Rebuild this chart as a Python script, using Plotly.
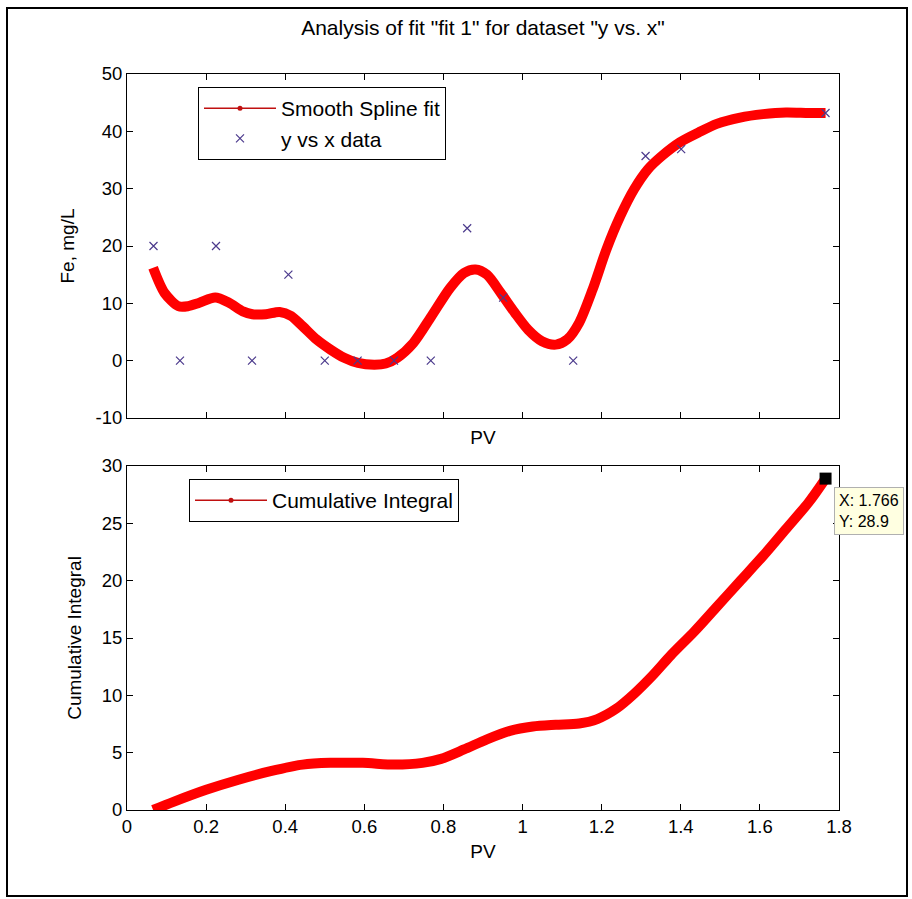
import plotly.graph_objects as go

# ---------------- data ----------------
data_x = [0.067, 0.134, 0.225, 0.316, 0.408, 0.500, 0.583, 0.675, 0.768, 0.860, 0.951, 1.128, 1.311, 1.401, 1.766]
data_y = [20.0, 0.0, 20.0, 0.0, 15.0, 0.0, 0.0, 0.0, 0.0, 23.1, 11.0, 0.0, 35.7, 36.9, 43.2]

spline_x = [0.066, 0.095, 0.130, 0.154, 0.183, 0.223, 0.258, 0.293, 0.317, 0.351, 0.386, 0.415,
            0.444, 0.479, 0.514, 0.549, 0.584, 0.625, 0.654, 0.683, 0.724, 0.770, 0.817, 0.852,
            0.881, 0.910, 0.945, 0.980, 1.014, 1.049, 1.084, 1.113, 1.143, 1.177, 1.212, 1.247,
            1.282, 1.317, 1.352, 1.398, 1.445, 1.491, 1.550, 1.608, 1.666, 1.724, 1.766]
spline_y = [16.2, 11.8, 9.5, 9.5, 10.1, 11.0, 10.1, 8.6, 8.1, 8.1, 8.5, 7.8,
            6.0, 3.7, 1.95, 0.5, -0.4, -0.7, -0.5, 0.5, 3.1, 7.8, 12.7, 15.3,
            15.9, 15.0, 11.8, 8.4, 5.4, 3.4, 2.8, 3.7, 6.6, 12.4, 19.4, 25.2,
            29.9, 33.4, 35.7, 38.1, 39.8, 41.3, 42.4, 43.0, 43.3, 43.2, 43.2]

cum_x = [0.066, 0.119, 0.200, 0.282, 0.363, 0.444, 0.514, 0.596, 0.677, 0.747, 0.794, 0.852,
         0.910, 0.968, 1.026, 1.084, 1.143, 1.189, 1.236, 1.282, 1.329, 1.375, 1.434, 1.492,
         1.550, 1.608, 1.666, 1.724, 1.766]
cum_y = [0.0, 0.73, 1.76, 2.64, 3.38, 3.96, 4.11, 4.11, 3.96, 4.11, 4.46, 5.28,
         6.16, 6.90, 7.28, 7.43, 7.54, 7.93, 8.81, 10.13, 11.74, 13.50, 15.56, 17.76,
         19.96, 22.16, 24.51, 26.86, 28.9]

tip_x = [1.766]
tip_y = [28.9]

x_tick_vals = [0, 0.2, 0.4, 0.6, 0.8, 1.0, 1.2, 1.4, 1.6, 1.8]
x_tick_text = ["0", "0.2", "0.4", "0.6", "0.8", "1", "1.2", "1.4", "1.6", "1.8"]
y1_tick_vals = [-10, 0, 10, 20, 30, 40, 50]
y1_tick_text = ["-10", "0", "10", "20", "30", "40", "50"]
y2_tick_vals = [0, 5, 10, 15, 20, 25, 30]
y2_tick_text = ["0", "5", "10", "15", "20", "25", "30"]

title_text = 'Analysis of fit "fit 1" for dataset "y vs. x"'

# ---------------- figure ----------------
FONT = "Liberation Sans, Arial, sans-serif"
RED = "#ff0000"
LEG_RED = "#c01010"
XCOL = "#4b3a8c"

fig = go.Figure()

fig.add_trace(go.Scatter(x=spline_x, y=spline_y, mode="lines", line=dict(color=RED, width=10, shape="spline", smoothing=0.8),
                         showlegend=False, xaxis="x", yaxis="y", hoverinfo="skip"))
fig.add_trace(go.Scatter(x=[None], y=[None], mode="lines+markers", name="Smooth Spline fit",
                         line=dict(color=LEG_RED, width=1.5), marker=dict(color=LEG_RED, size=5),
                         xaxis="x", yaxis="y", legend="legend"))
fig.add_trace(go.Scatter(x=data_x, y=data_y, mode="markers", name="y vs x data",
                         marker=dict(symbol="x-thin", size=8, line=dict(color=XCOL, width=1.2)),
                         xaxis="x", yaxis="y", legend="legend"))

fig.add_trace(go.Scatter(x=cum_x, y=cum_y, mode="lines", line=dict(color=RED, width=10, shape="spline", smoothing=0.8),
                         showlegend=False, xaxis="x2", yaxis="y2", hoverinfo="skip"))
fig.add_trace(go.Scatter(x=[None], y=[None], mode="lines+markers", name="Cumulative Integral",
                         line=dict(color=LEG_RED, width=1.5), marker=dict(color=LEG_RED, size=5),
                         xaxis="x2", yaxis="y2", legend="legend2"))
fig.add_trace(go.Scatter(x=tip_x, y=tip_y, mode="markers", showlegend=False,
                         marker=dict(symbol="square", size=12, color="black"),
                         xaxis="x2", yaxis="y2"))

axis_common = dict(showline=True, linecolor="black", linewidth=1, mirror="ticks", ticks="inside",
                   ticklen=6, tickcolor="black", showgrid=False, zeroline=False,
                   tickfont=dict(family=FONT, size=18.5, color="black"))

L, R, T, B = 127, 73, 74, 89
W, H = 912, 899
PH = H - T - B
PW = W - L - R

def py(p):
    return (H - B - p) / PH

def px(p):
    return (p - L) / PW

fig.update_layout(
    width=W, height=H,
    margin=dict(l=L, r=R, t=T, b=B, autoexpand=False),
    paper_bgcolor="white", plot_bgcolor="white",
    font=dict(family=FONT, size=18, color="black"),
    title=dict(text=title_text, x=0.5, xref="paper", xanchor="center", y=1 - 28 / H, yanchor="middle",
               font=dict(family=FONT, size=21, color="black")),
    xaxis=dict(axis_common, domain=[0, 1], range=[0, 1.8], tickvals=x_tick_vals, ticktext=x_tick_text,
               showticklabels=False, anchor="y",
               title=dict(text="PV", standoff=12, font=dict(family=FONT, size=19))),
    yaxis=dict(axis_common, domain=[py(418), 1], range=[-10, 50], tickvals=y1_tick_vals, ticktext=y1_tick_text,
               anchor="x", title=dict(text="Fe, mg/L", font=dict(family=FONT, size=19))),
    xaxis2=dict(axis_common, domain=[0, 1], range=[0, 1.8], tickvals=x_tick_vals, ticktext=x_tick_text,
                anchor="y2", title=dict(text="PV", standoff=8, font=dict(family=FONT, size=19))),
    yaxis2=dict(axis_common, domain=[0, py(466)], range=[0, 30], tickvals=y2_tick_vals, ticktext=y2_tick_text,
                anchor="x2", title=dict(text="Cumulative Integral", font=dict(family=FONT, size=19))),
    legend=dict(x=px(198), y=py(87), xanchor="left", yanchor="top", bgcolor="white",
                bordercolor="black", borderwidth=1, font=dict(family=FONT, size=21), itemwidth=72,
                tracegroupgap=0),
    legend2=dict(x=px(189), y=py(479), xanchor="left", yanchor="top", bgcolor="white",
                 bordercolor="black", borderwidth=1, font=dict(family=FONT, size=21), itemwidth=72),
    shapes=[dict(type="rect", xref="paper", yref="paper", x0=px(7), x1=px(907), y0=py(8), y1=py(896),
                 line=dict(color="black", width=2), fillcolor="rgba(0,0,0,0)", layer="above")],
    annotations=[dict(x=tip_x[0], y=tip_y[0], xref="x2", yref="y2", text="X: 1.766<br>Y: 28.9",
                      showarrow=False, xanchor="left", yanchor="top", xshift=8, yshift=-8, align="left",
                      bgcolor="#ffffe1", bordercolor="#b0b0b0", borderwidth=1, borderpad=4,
                      font=dict(family=FONT, size=16, color="black"))],
)

fig.write_html("out.html")
